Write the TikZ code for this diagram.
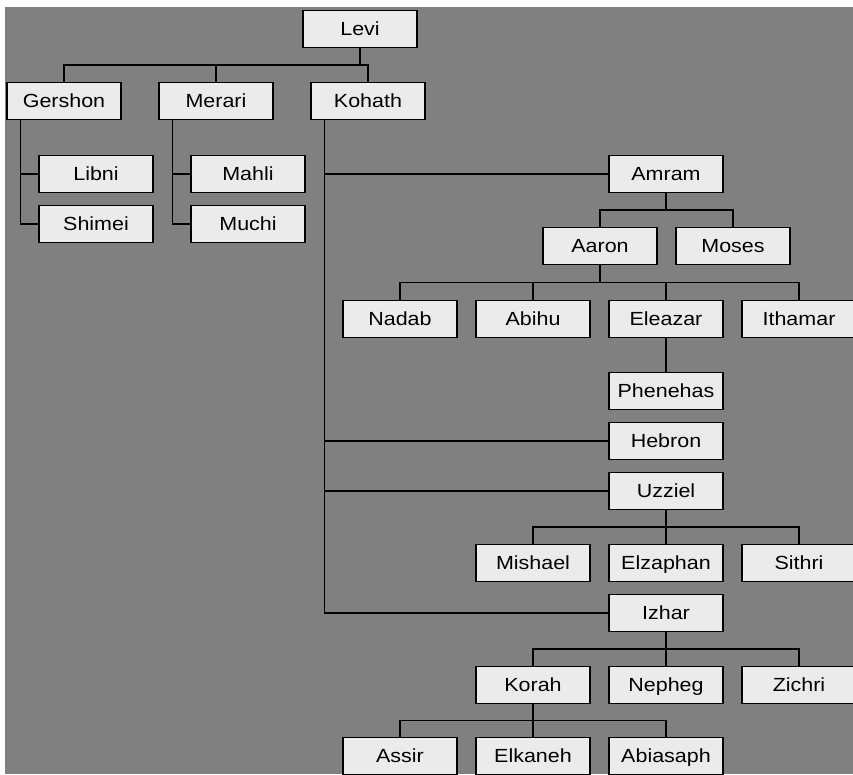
\documentclass[tikz,border=0pt]{standalone}
\usepackage{fontspec}
\setmainfont[FakeStretch=1.13]{Liberation Sans}
\usetikzlibrary{calc}
\definecolor{boxfill}{gray}{0.92}
\definecolor{backfill}{gray}{0.5}

\begin{document}
\begin{tikzpicture}[x=1pt,y=-1pt,line width=1.1pt,
  person/.style={draw,fill=boxfill,minimum width=114pt,minimum height=37pt,inner sep=0pt,
    text height=17pt,text depth=4pt,font=\fontsize{19}{19}\selectfont}]
\useasboundingbox (0,0) rectangle (853,774);
\clip (0,0) rectangle (853,774);
\fill[backfill] (5,7) rectangle (853,774);

% the family
\foreach \id/\who/\x/\y in {levi/Levi/360/29,
    gershon/Gershon/64/101, merari/Merari/216/101, kohath/Kohath/368/101,
    libni/Libni/96/174, shimei/Shimei/96/224, mahli/Mahli/248/174, muchi/Muchi/248/224,
    amram/Amram/666/174, aaron/Aaron/600/246, moses/Moses/733/246,
    nadab/Nadab/400/319, abihu/Abihu/533/319, eleazar/Eleazar/666/319, ithamar/Ithamar/799/319,
    phenehas/Phenehas/666/391, hebron/Hebron/666/441, uzziel/Uzziel/666/491,
    mishael/Mishael/533/563, elzaphan/Elzaphan/666/563, sithri/Sithri/799/563,
    izhar/Izhar/666/613,
    korah/Korah/533/685, nepheg/Nepheg/666/685, zichri/Zichri/799/685,
    assir/Assir/400/756, elkaneh/Elkaneh/533/756, abiasaph/Abiasaph/666/756}
  \node[person] (\id) at (\x,\y) {\who};

% children hanging below
\foreach \up/\down in {levi/gershon, levi/merari, levi/kohath,
    amram/aaron, amram/moses,
    aaron/nadab, aaron/abihu, aaron/eleazar, aaron/ithamar, eleazar/phenehas,
    uzziel/mishael, uzziel/elzaphan, uzziel/sithri,
    izhar/korah, izhar/nepheg, izhar/zichri,
    korah/assir, korah/elkaneh, korah/abiasaph}
  \draw (\up.south) |- ($(\up.south)!0.5!(\down.north)$) -| (\down.north);

% children at the side
\foreach \up/\down in {gershon/libni, gershon/shimei, merari/mahli, merari/muchi,
    kohath/amram, kohath/hebron, kohath/uzziel, kohath/izhar}
  \draw ([xshift=14pt]\up.south west) |- (\down.west);
\end{tikzpicture}
\end{document}
